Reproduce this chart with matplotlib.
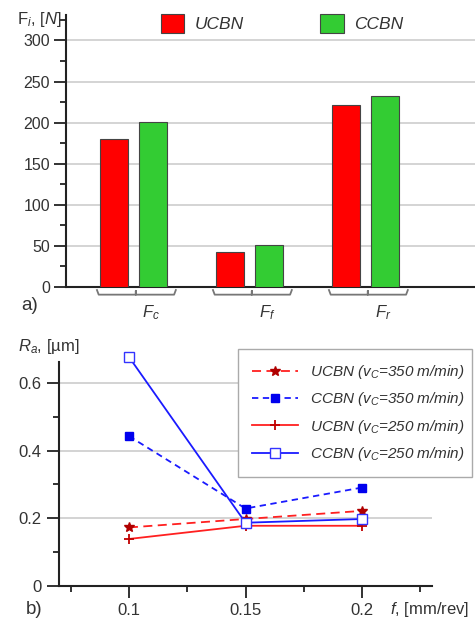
import numpy as np
import matplotlib
matplotlib.use("Agg")
import matplotlib.pyplot as plt
from matplotlib.ticker import MultipleLocator
import matplotlib.transforms as mtransforms

plt.rcParams['font.family'] = ['Liberation Sans', 'DejaVu Sans']
plt.rcParams['mathtext.fontset'] = 'custom'
plt.rcParams['mathtext.rm'] = 'Liberation Sans'
plt.rcParams['mathtext.it'] = 'Liberation Sans:italic'
plt.rcParams['mathtext.bf'] = 'Liberation Sans:bold'

# a) cutting force components
force_labels = ['$F_c$', '$F_f$', '$F_r$']
ucbn_force = [180, 43, 221]
ccbn_force = [201, 51, 233]

# b) surface roughness vs feed
feed = [0.1, 0.15, 0.2]
ucbn_350 = [0.173, 0.198, 0.222]
ccbn_350 = [0.443, 0.229, 0.291]
ucbn_250 = [0.139, 0.178, 0.178]
ccbn_250 = [0.677, 0.187, 0.198]

txt = '#333333'
spine = '#222222'

fig = plt.figure(figsize=(4.75, 6.19), dpi=100)

# ---------- top panel ----------
ax1 = fig.add_axes([0.1389, 0.5363, 0.8611, 0.4395])
x = np.arange(len(force_labels))
w = 0.241
ax1.bar(x - 0.168, ucbn_force, w, color='#ff0000', edgecolor='#444444', linewidth=0.8,
        label='UCBN', zorder=3)
ax1.bar(x + 0.168, ccbn_force, w, color='#33cc33', edgecolor='#444444', linewidth=0.8,
        label='CCBN', zorder=3)
ax1.set_xlim(-0.582, 2.944)
ax1.set_ylim(0, 331)
ax1.yaxis.set_major_locator(MultipleLocator(50))
ax1.yaxis.set_minor_locator(MultipleLocator(25))
ax1.grid(axis='y', color='#d4d4d4', linewidth=1.4, zorder=0)
ax1.set_xticks([])
for s in ['top', 'right']:
    ax1.spines[s].set_visible(False)
for s in ['left', 'bottom']:
    ax1.spines[s].set_color(spine)
    ax1.spines[s].set_linewidth(1.5)
ax1.tick_params(axis='y', which='major', length=8.5, width=1.3, color=spine,
                labelsize=11.5, labelcolor=txt, pad=3)
ax1.tick_params(axis='y', which='minor', length=4.3, width=1.3, color=spine)

# braces under groups
trans = mtransforms.blended_transform_factory(ax1.transData, ax1.transAxes)
for i, lab in enumerate(force_labels):
    bx = [i - 0.315, i - 0.30, i + 0.02, i + 0.02, i + 0.02, i + 0.35, i + 0.365]
    by = [-0.011, -0.028, -0.028, -0.014, -0.028, -0.028, -0.011]
    ax1.plot(bx, by, color='#777777', linewidth=1.3, transform=trans, clip_on=False)
    ax1.text(i + 0.15, -0.094, lab, transform=trans, ha='center', va='center',
             fontsize=12, color=txt)

leg1 = ax1.legend(loc='center left', bbox_to_anchor=(0.339, 0.962),
                  bbox_transform=fig.transFigure, ncol=2, frameon=False,
                  handlelength=1.35, handleheight=1.35, handletextpad=0.6,
                  columnspacing=4.4, borderpad=0, borderaxespad=0,
                  prop={'style': 'italic', 'size': 12.5})
for t in leg1.get_texts():
    t.set_color(txt)

fig.text(0.036, 0.968, r'F$_{i}$, [$N$]', fontsize=12, color=txt, va='center', ha='left')
fig.text(0.044, 0.506, 'a)', fontsize=13.5, color=txt, va='center', ha='left')

# ---------- bottom panel ----------
ax2 = fig.add_axes([0.1242, 0.0533, 0.7853, 0.3619])
ax2.plot(feed, ucbn_350, color='#ff2020', linestyle=(0, (5, 3)), linewidth=1.3,
         marker='*', markersize=7, markerfacecolor='#b00000', markeredgecolor='#b00000',
         label=r'UCBN ($v_C$=350 m/min)', clip_on=False, zorder=4)
ax2.plot(feed, ccbn_350, color='#1a1aff', linestyle=(0, (3.5, 2.5)), linewidth=1.3,
         marker='s', markersize=6, markerfacecolor='#0000ee', markeredgecolor='#0000ee',
         label=r'CCBN ($v_C$=350 m/min)', clip_on=False, zorder=4)
ax2.plot(feed, ucbn_250, color='#ff2020', linestyle='-', linewidth=1.3,
         marker='+', markersize=7.5, markeredgewidth=1.3, markeredgecolor='#c00000',
         label=r'UCBN ($v_C$=250 m/min)', clip_on=False, zorder=4)
ax2.plot(feed, ccbn_250, color='#1a1aff', linestyle='-', linewidth=1.3,
         marker='s', markersize=6.5, markerfacecolor='white', markeredgecolor='#3333ff',
         markeredgewidth=1.0, label=r'CCBN ($v_C$=250 m/min)', clip_on=False, zorder=5)
ax2.set_xlim(0.07, 0.23)
ax2.set_ylim(0, 0.662)
ax2.set_xticks(feed)
ax2.set_xticklabels(['0.1', '0.15', '0.2'])
ax2.set_xticks([0.075, 0.125, 0.175, 0.225], minor=True)
ax2.set_yticks([0, 0.2, 0.4, 0.6])
ax2.set_yticklabels(['0', '0.2', '0.4', '0.6'])
ax2.set_yticks([0.1, 0.3, 0.5], minor=True)
ax2.grid(axis='y', which='major', color='#cccccc', linewidth=1.2, zorder=0)
for s in ['top', 'right']:
    ax2.spines[s].set_visible(False)
for s in ['left', 'bottom']:
    ax2.spines[s].set_color(spine)
    ax2.spines[s].set_linewidth(1.5)
ax2.tick_params(which='major', length=8.5, width=1.3, color=spine, labelsize=12,
                labelcolor=txt, pad=4)
ax2.tick_params(which='minor', length=4.3, width=1.3, color=spine)

leg2 = ax2.legend(loc='upper left', bbox_to_anchor=(0.501, 0.436, 0.493, 0.0),
                  bbox_transform=fig.transFigure, mode='expand', frameon=True,
                  fancybox=False, edgecolor='#aaaaaa', framealpha=1,
                  handlelength=3.0, handletextpad=0.8, labelspacing=0.62,
                  borderpad=0.9, borderaxespad=0,
                  prop={'style': 'italic', 'size': 11})
leg2.get_frame().set_linewidth(1.0)
for t in leg2.get_texts():
    t.set_color(txt)

fig.text(0.038, 0.441, r'$R_a$, [µm]', fontsize=12, color=txt, va='center', ha='left')
fig.text(0.055, 0.015, 'b)', fontsize=13.5, color=txt, va='center', ha='left')
fig.text(0.821, 0.015, r'$f$, [mm/rev]', fontsize=12, color=txt, va='center', ha='left')

fig.savefig('out.png', dpi=100)
